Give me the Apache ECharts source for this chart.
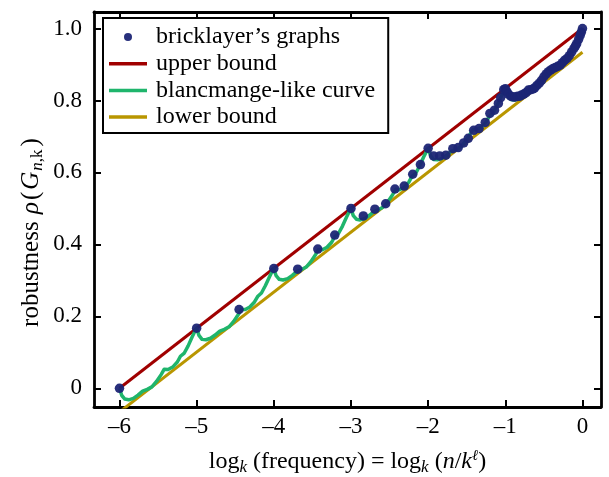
<!DOCTYPE html>
<html>
<head>
<meta charset="utf-8">
<script src="https://cdn.jsdelivr.net/npm/echarts@6/dist/echarts.min.js"></script>
<style>html,body{margin:0;padding:0;background:#fff;}#c{width:609px;height:477px;}</style>
</head>
<body>
<div id="c"></div>
<script>
const xTickValues = [-6, -5, -4, -3, -2, -1, 0];
const yTickValues = [0, 0.2, 0.4, 0.6, 0.8, 1.0];

const upperBoundX = [-6, 0];
const upperBoundY = [0, 1.0];
const lowerBoundX = [-6, 0];
const lowerBoundY = [-0.066, 0.934];

const brickX = [-6, -5, -4.45, -4, -3.69, -3.43, -3.21, -3, -2.84, -2.69, -2.55, -2.43, -2.31, -2.20, -2.10, -2,
  -1.93, -1.85, -1.77, -1.68, -1.61, -1.54, -1.48, -1.41, -1.34, -1.26, -1.20, -1.14, -1.09, -1.06, -1.02, -1,
  -0.98, -0.96, -0.93, -0.90, -0.87, -0.84, -0.81, -0.79, -0.76, -0.73, -0.70, -0.67, -0.64, -0.62, -0.59, -0.56,
  -0.53, -0.50, -0.47, -0.44, -0.41, -0.38, -0.35, -0.32, -0.29, -0.26, -0.23, -0.20, -0.17, -0.14, -0.11, -0.09,
  -0.075, -0.05, -0.03, -0.015, 0];
const brickY = [0, 0.167, 0.219, 0.333, 0.331, 0.387, 0.426, 0.5, 0.479, 0.498, 0.513, 0.554, 0.562, 0.595, 0.622, 0.667,
  0.646, 0.646, 0.648, 0.666, 0.669, 0.682, 0.695, 0.717, 0.722, 0.739, 0.764, 0.773, 0.792, 0.808, 0.830, 0.833,
  0.825, 0.818, 0.812, 0.810, 0.810, 0.812, 0.812, 0.815, 0.818, 0.822, 0.829, 0.830, 0.832, 0.835, 0.842, 0.848,
  0.856, 0.866, 0.874, 0.880, 0.885, 0.889, 0.892, 0.895, 0.898, 0.905, 0.912, 0.917, 0.925, 0.935, 0.945, 0.952,
  0.958, 0.970, 0.981, 0.990, 1.0];

const blancX = [
  -6, -5.97, -5.93, -5.88, -5.82, -5.76, -5.70, -5.64, -5.58, -5.52, -5.46, -5.42, -5.37, -5.31, -5.25, -5.21, -5.16, -5.11, -5.06, -5.03,
  -5, -4.97, -4.93, -4.88, -4.82, -4.76, -4.70, -4.64, -4.58, -4.52, -4.46, -4.42, -4.37, -4.31, -4.25, -4.21, -4.16, -4.11, -4.06, -4.03,
  -4, -3.97, -3.93, -3.88, -3.82, -3.76, -3.70, -3.64, -3.58, -3.52, -3.46, -3.42, -3.37, -3.31, -3.25, -3.21, -3.16, -3.11, -3.06, -3.03,
  -3, -2.97, -2.93, -2.88, -2.82, -2.76, -2.70, -2.64, -2.58, -2.52, -2.46, -2.42, -2.37, -2.31, -2.25, -2.21, -2.16, -2.11, -2.06, -2.03,
  -2, -1.97, -1.93, -1.88, -1.82, -1.76, -1.70, -1.64, -1.58, -1.52, -1.46, -1.42, -1.37, -1.31, -1.25, -1.21, -1.16, -1.11, -1.06, -1.03,
  -1, -0.97, -0.93, -0.88, -0.82, -0.76, -0.70, -0.64, -0.58, -0.52, -0.46, -0.42, -0.37, -0.31, -0.25, -0.21, -0.16, -0.11, -0.06, -0.03,
  0];
const blancY = [
  0, -0.020, -0.030, -0.032, -0.028, -0.019, -0.008, -0.003, 0.004, 0.019, 0.038, 0.053, 0.052, 0.059, 0.073, 0.089, 0.098, 0.118, 0.142, 0.155,
  0.167, 0.147, 0.136, 0.135, 0.139, 0.148, 0.159, 0.164, 0.171, 0.186, 0.205, 0.219, 0.219, 0.226, 0.240, 0.255, 0.265, 0.285, 0.308, 0.321,
  0.333, 0.313, 0.303, 0.301, 0.305, 0.314, 0.325, 0.330, 0.337, 0.352, 0.371, 0.386, 0.385, 0.392, 0.406, 0.422, 0.431, 0.451, 0.475, 0.488,
  0.500, 0.480, 0.470, 0.468, 0.472, 0.481, 0.492, 0.497, 0.504, 0.519, 0.538, 0.553, 0.552, 0.559, 0.573, 0.589, 0.598, 0.618, 0.642, 0.655,
  0.667, 0.647, 0.636, 0.635, 0.639, 0.648, 0.659, 0.664, 0.671, 0.686, 0.705, 0.719, 0.719, 0.726, 0.740, 0.755, 0.765, 0.785, 0.808, 0.821,
  0.833, 0.813, 0.803, 0.801, 0.805, 0.814, 0.825, 0.830, 0.837, 0.852, 0.871, 0.886, 0.885, 0.892, 0.906, 0.922, 0.931, 0.951, 0.975, 0.988,
  1.0];

const FONT = 'Liberation Serif';
const RED = '#a00000', GREEN = '#1fb56c', YEL = '#b99600', NAVY = '#1c2575';
const zip = (a, b) => a.map((v, i) => [v, b[i]]);
const dash = v => v < 0 ? '\u2013' + Math.abs(v) : String(v);

const chart = echarts.init(document.getElementById('c'), null, {renderer: 'canvas'});
const axisCommon = {
  type: 'value',
  splitLine: {show: false},
  axisLine: {show: true, onZero: false, lineStyle: {color: '#000', width: 2.8}},
};
const tickStyle = {inside: true, length: 7, lineStyle: {color: '#000', width: 2}};
const xMin = -6.33, xMax = 0.24, yMin = -0.052, yMax = 1.046;
chart.setOption({
  animation: false,
  backgroundColor: '#fff',
  grid: {left: 94, right: 8, top: 12, bottom: 70},
  xAxis: [
    Object.assign({}, axisCommon, {position: 'bottom', min: xMin, max: xMax,
      axisTick: Object.assign({customValues: xTickValues}, tickStyle),
      axisLabel: {customValues: xTickValues, formatter: dash, fontFamily: FONT, fontSize: 23, color: '#000', margin: 8}}),
    Object.assign({}, axisCommon, {position: 'top', min: xMin, max: xMax,
      axisTick: Object.assign({customValues: xTickValues}, tickStyle),
      axisLabel: {show: false}})
  ],
  yAxis: [
    Object.assign({}, axisCommon, {position: 'left', min: yMin, max: yMax,
      axisTick: Object.assign({customValues: yTickValues}, tickStyle),
      axisLabel: {customValues: yTickValues, formatter: v => v === 0 ? '0' : v.toFixed(1), fontFamily: FONT, fontSize: 23, color: '#000', margin: 12}}),
    Object.assign({}, axisCommon, {position: 'right', min: yMin, max: yMax,
      axisTick: Object.assign({customValues: yTickValues}, tickStyle),
      axisLabel: {show: false}})
  ],
  legend: {
    orient: 'vertical', left: 103, top: 18,
    backgroundColor: '#fff', borderColor: '#000', borderWidth: 2, borderRadius: 0,
    padding: [7, 13, 4, 6], itemWidth: 38, itemHeight: 8, itemGap: 2.7,
    textStyle: {fontFamily: FONT, fontSize: 24, color: '#000', padding: [0, 0, 0, 4]},
    data: [
      {name: 'bricklayer\u2019s graphs', icon: 'circle'},
      {name: 'upper bound', icon: 'path://M0,0H38V3.5H0Z'},
      {name: 'blancmange-like curve', icon: 'path://M0,0H38V3.5H0Z'},
      {name: 'lower bound', icon: 'path://M0,0H38V3.5H0Z'}
    ]
  },
  graphic: [
    {type: 'text', x: 347.5, y: 462, z: 10,
      style: {text: 'log{sub|k} (frequency) = log{sub|k} ({it|n}/{it|k}{sup|\u2113})',
        fontFamily: FONT, fontSize: 24, fill: '#000', align: 'center', verticalAlign: 'middle',
        rich: {
          sub: {fontFamily: FONT, fontSize: 17, fontStyle: 'italic', padding: [12, 0, 0, 0]},
          it: {fontFamily: FONT, fontSize: 24, fontStyle: 'italic'},
          sup: {fontFamily: FONT, fontSize: 15, fontStyle: 'italic', padding: [0, 0, 12, 0]}
        }}},
    {type: 'text', x: 31, y: 232, rotation: Math.PI / 2, z: 10,
      style: {text: 'robustness {it|\u03c1}{p|(}{it|G}{subi|n}{sub|,k}{p|)}',
        fontFamily: FONT, fontSize: 25, fill: '#000', align: 'center', verticalAlign: 'middle',
        rich: {
          it: {fontFamily: FONT, fontSize: 25, fontStyle: 'italic', padding: [0, 1, 0, 1]},
          p: {fontFamily: FONT, fontSize: 25, padding: [0, 1, 0, 1]},
          subi: {fontFamily: FONT, fontSize: 17, fontStyle: 'italic', padding: [13, 0, 0, 0]},
          sub: {fontFamily: FONT, fontSize: 17, padding: [13, 2, 0, 0]}
        }}}
  ],
  series: [
    {name: 'lower bound', type: 'line', data: zip(lowerBoundX, lowerBoundY), symbol: 'none', silent: true,
      lineStyle: {color: YEL, width: 3}, itemStyle: {color: YEL}, z: 2},
    {name: 'upper bound', type: 'line', data: zip(upperBoundX, upperBoundY), symbol: 'none', silent: true,
      lineStyle: {color: RED, width: 3}, itemStyle: {color: RED}, z: 3},
    {name: 'blancmange-like curve', type: 'line', data: zip(blancX, blancY), symbol: 'none', silent: true,
      lineStyle: {color: GREEN, width: 3.5, join: 'round'}, itemStyle: {color: GREEN}, z: 4},
    {name: 'bricklayer\u2019s graphs', type: 'scatter', data: zip(brickX, brickY), symbolSize: 9.5, silent: true,
      itemStyle: {color: NAVY, opacity: 0.95}, z: 5}
  ]
});
</script>
</body>
</html>
